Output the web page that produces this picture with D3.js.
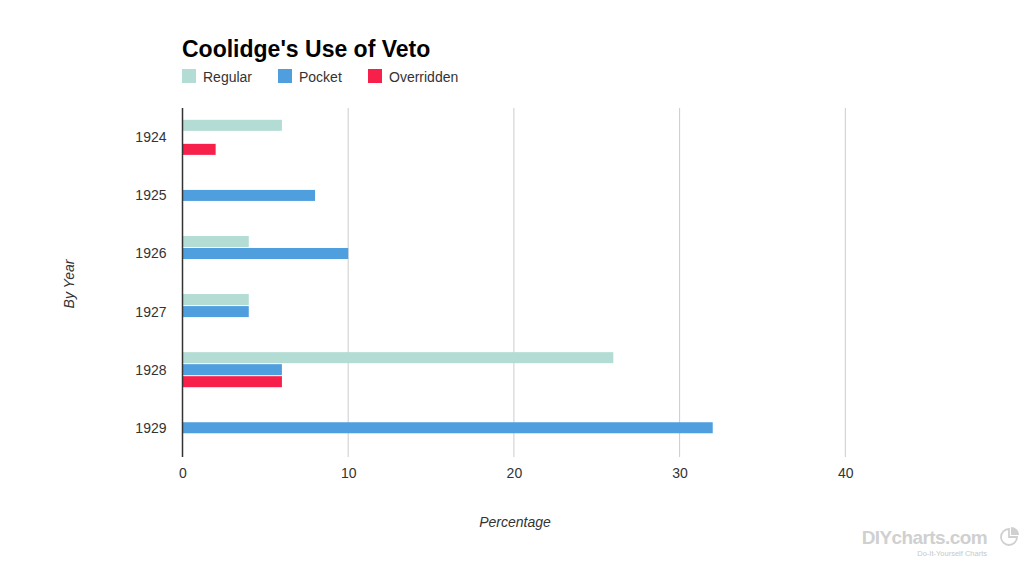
<!DOCTYPE html>
<html><head><meta charset="utf-8">
<script src="https://cdn.jsdelivr.net/npm/d3@7"></script>
<style>body{margin:0;background:#fff;}svg{display:block;}</style>
</head><body>
<script>
const years = ["1924","1925","1926","1927","1928","1929"];
const seriesNames = ["Regular","Pocket","Overridden"];
const regular = [6,0,4,4,26,0];
const pocket = [0,8,10,4,6,32];
const overridden = [2,0,0,0,6,0];
const colors = ["#b3dcd4","#4f9fdf","#f7204a"];
const xTicks = [0,10,20,30,40];

const W=1027,H=564;
const svg=d3.select("body").append("svg").attr("width",W).attr("height",H);
const pLeft=182.5, pRight=845.3, pTop=108.8, pBottom=457.3;
const x=d3.scaleLinear().domain([0,40]).range([pLeft,pRight]);
const y0=d3.scaleBand().domain(years).range([pTop,pBottom]).paddingInner(22/58).paddingOuter(11/58);
const y1=d3.scaleBand().domain(seriesNames).range([0,y0.bandwidth()-1]).paddingInner(1/12);
const font="'Liberation Sans', Arial, sans-serif";

// gridlines
svg.append("g").selectAll("line").data(xTicks.filter(d=>d>0)).join("line")
 .attr("x1",d=>x(d)).attr("x2",d=>x(d)).attr("y1",108).attr("y2",457)
 .attr("stroke","#cccccc").attr("stroke-width",1);

const seriesVals=[regular,pocket,overridden];
const data=[];
years.forEach((yr,i)=>seriesNames.forEach((s,j)=>{ if(seriesVals[j][i]>0) data.push({yr,s,v:seriesVals[j][i],c:colors[j]}); }));
svg.append("g").selectAll("rect").data(data).join("rect")
 .attr("x",x(0)).attr("y",d=>y0(d.yr)+y1(d.s)).attr("height",y1.bandwidth())
 .attr("width",d=>x(d.v)-x(0)).attr("fill",d=>d.c);

// y axis line
svg.append("line").attr("x1",pLeft).attr("x2",pLeft).attr("y1",108).attr("y2",457).attr("stroke","#333").attr("stroke-width",1.5);

// y labels
const ya=svg.append("g").attr("transform",`translate(${pLeft},0)`).call(d3.axisLeft(y0).tickSize(0).tickPadding(16));
ya.select(".domain").remove();
ya.selectAll("text").attr("font-family",font).attr("font-size",14).attr("fill","#333");

// x labels
const xa=svg.append("g").attr("transform",`translate(0,457)`).call(d3.axisBottom(x).tickValues(xTicks).tickSize(0).tickPadding(11).tickFormat(d3.format("d")));
xa.select(".domain").remove();
xa.selectAll("text").attr("font-family",font).attr("font-size",14).attr("fill","#333");

// titles
svg.append("text").attr("x",182).attr("y",57).text("Coolidge's Use of Veto")
 .attr("font-family",font).attr("font-weight","bold").attr("font-size",23).attr("fill","#000");
svg.append("text").attr("x",515).attr("y",527).attr("text-anchor","middle").text("Percentage")
 .attr("font-family",font).attr("font-style","italic").attr("font-size",14).attr("fill","#333");
svg.append("text").attr("transform","translate(74,284) rotate(-90)").attr("text-anchor","middle").text("By Year")
 .attr("font-family",font).attr("font-style","italic").attr("font-size",14).attr("fill","#333");

// legend
const legX=[182,278,368];
const lg=svg.append("g").selectAll("g").data(seriesNames).join("g").attr("transform",(d,i)=>`translate(${legX[i]},69)`);
lg.append("rect").attr("width",14).attr("height",14).attr("fill",(d,i)=>colors[i]);
lg.append("text").attr("x",21).attr("y",12.5).text(d=>d).attr("font-family",font).attr("font-size",14).attr("fill","#333");

// watermark
svg.append("text").attr("x",987).attr("y",544).attr("text-anchor","end").text("DIYcharts.com")
 .attr("font-family","'Liberation Sans Narrow', Arial, sans-serif").attr("font-weight","bold").attr("font-size",19).attr("fill","#d0d0d0").attr("letter-spacing",-0.6);
svg.append("text").attr("x",987).attr("y",556).attr("text-anchor","end").text("Do-It-Yourself Charts")
 .attr("font-family","'Liberation Sans Narrow', Arial, sans-serif").attr("font-size",7.5).attr("fill","#c8c8c8");
const wm=svg.append("g").attr("transform","translate(1009,537)");
wm.append("path").attr("d",d3.arc()({innerRadius:0,outerRadius:8,startAngle:Math.PI*0.5,endAngle:Math.PI*2})).attr("fill","none").attr("stroke","#d0d0d0").attr("stroke-width",1.8);
wm.append("path").attr("d",d3.arc()({innerRadius:0,outerRadius:8,startAngle:0,endAngle:Math.PI*0.5})).attr("transform","translate(2,-2)").attr("fill","#d0d0d0");
</script>
</body></html>
